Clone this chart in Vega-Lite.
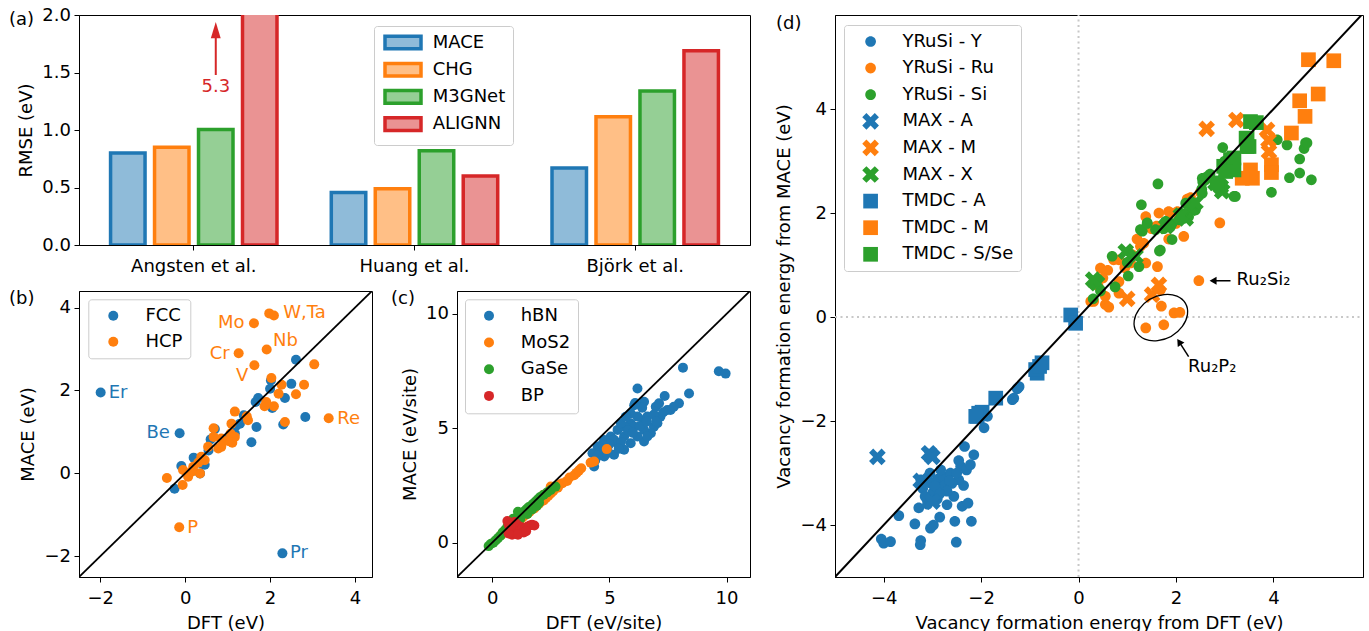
{
  "$schema": "https://vega.github.io/schema/vega-lite/v6.json",
  "background": "white",
  "padding": {"left": 8, "top": 5, "right": 5, "bottom": 5},
  "config": {
    "font": "DejaVu Sans",
    "view": {"stroke": "black", "strokeWidth": 1},
    "axis": {"grid": false, "domainColor": "black", "tickColor": "black", "labelColor": "black", "titleColor": "black", "labelFont": "DejaVu Sans", "titleFont": "DejaVu Sans", "labelFontSize": 18, "titleFontSize": 18, "titleFontWeight": "normal", "tickSize": 5, "labelPadding": 3.5, "titlePadding": 6, "labelAngle": 0},
    "axisX": {"labelPadding": 7.5, "titlePadding": 6.5},
    "legend": {"labelFont": "DejaVu Sans", "labelFontSize": 18, "labelColor": "black", "strokeColor": "#cccccc", "fillColor": "white", "cornerRadius": 3, "padding": 7.5, "rowPadding": 8.6, "orient": "none", "labelLimit": 300},
    "title": {"font": "DejaVu Sans", "fontSize": 18, "fontWeight": "normal", "color": "black", "anchor": "start", "frame": "group", "offset": 0, "baseline": "middle"}
  },
  "datasets": {
    "bars": [
      {"study": "Angsten et al.", "model": "MACE", "y": 0.80},
      {"study": "Angsten et al.", "model": "CHG", "y": 0.85},
      {"study": "Angsten et al.", "model": "M3GNet", "y": 1.005},
      {"study": "Angsten et al.", "model": "ALIGNN", "y": 5.3},
      {"study": "Huang et al.", "model": "MACE", "y": 0.457},
      {"study": "Huang et al.", "model": "CHG", "y": 0.49},
      {"study": "Huang et al.", "model": "M3GNet", "y": 0.82},
      {"study": "Huang et al.", "model": "ALIGNN", "y": 0.60},
      {"study": "Björk et al.", "model": "MACE", "y": 0.67},
      {"study": "Björk et al.", "model": "CHG", "y": 1.115},
      {"study": "Björk et al.", "model": "M3GNet", "y": 1.34},
      {"study": "Björk et al.", "model": "ALIGNN", "y": 1.69}
    ],
    "annA": [
      {"study": "Angsten et al.", "model": "M3GNet", "y": 1.478, "y2": 1.861, "ytip": 1.861, "ytxt": 1.374, "label": "5.3"}
    ],
    "b": [
      {"x": -1.99, "y": 1.95, "g": "FCC"}, {"x": -0.13, "y": 0.97, "g": "FCC"}, {"x": 2.29, "y": -1.93, "g": "FCC"},
      {"x": 2.61, "y": 2.74, "g": "FCC"}, {"x": 2.5, "y": 2.16, "g": "FCC"}, {"x": 2.35, "y": 1.82, "g": "FCC"},
      {"x": 2.83, "y": 1.36, "g": "FCC"}, {"x": 2.31, "y": 1.18, "g": "FCC"}, {"x": 2.02, "y": 2.24, "g": "FCC"},
      {"x": 2.0, "y": 2.04, "g": "FCC"}, {"x": 2.05, "y": 1.58, "g": "FCC"}, {"x": 1.72, "y": 1.82, "g": "FCC"},
      {"x": 1.66, "y": 1.72, "g": "FCC"}, {"x": 1.68, "y": 1.12, "g": "FCC"}, {"x": 1.56, "y": 0.75, "g": "FCC"},
      {"x": 1.38, "y": 1.4, "g": "FCC"}, {"x": 1.29, "y": 1.2, "g": "FCC"}, {"x": 0.7, "y": 1.07, "g": "FCC"},
      {"x": 0.6, "y": 0.82, "g": "FCC"}, {"x": 0.38, "y": 0.24, "g": "FCC"}, {"x": 0.46, "y": 0.21, "g": "FCC"},
      {"x": 0.2, "y": 0.38, "g": "FCC"}, {"x": -0.09, "y": 0.18, "g": "FCC"}, {"x": -0.25, "y": -0.37, "g": "FCC"},
      {"x": 0.35, "y": 0.0, "g": "FCC"}, {"x": 1.01, "y": 0.84, "g": "FCC"}, {"x": 1.17, "y": 0.96, "g": "FCC"},
      {"x": 0.55, "y": 0.55, "g": "FCC"}, {"x": 0.9, "y": 0.8, "g": "FCC"}, {"x": 1.2, "y": 1.15, "g": "FCC"},
      {"x": -0.14, "y": -1.3, "g": "HCP"}, {"x": 1.62, "y": 3.62, "g": "HCP"}, {"x": 1.98, "y": 3.86, "g": "HCP"},
      {"x": 2.09, "y": 3.81, "g": "HCP"}, {"x": 1.92, "y": 2.99, "g": "HCP"}, {"x": 1.26, "y": 2.9, "g": "HCP"},
      {"x": 1.63, "y": 2.61, "g": "HCP"}, {"x": 3.38, "y": 1.33, "g": "HCP"}, {"x": 3.04, "y": 2.63, "g": "HCP"},
      {"x": 2.8, "y": 2.14, "g": "HCP"}, {"x": 2.61, "y": 1.91, "g": "HCP"}, {"x": 2.27, "y": 2.14, "g": "HCP"},
      {"x": 2.2, "y": 1.92, "g": "HCP"}, {"x": 2.03, "y": 2.3, "g": "HCP"}, {"x": 2.09, "y": 1.62, "g": "HCP"},
      {"x": 1.87, "y": 1.62, "g": "HCP"}, {"x": 1.91, "y": 1.72, "g": "HCP"}, {"x": 2.35, "y": 1.24, "g": "HCP"},
      {"x": 1.48, "y": 1.28, "g": "HCP"}, {"x": 1.45, "y": 1.38, "g": "HCP"}, {"x": 1.17, "y": 1.49, "g": "HCP"},
      {"x": 1.09, "y": 1.2, "g": "HCP"}, {"x": 1.07, "y": 0.96, "g": "HCP"}, {"x": 1.17, "y": 0.88, "g": "HCP"},
      {"x": 1.11, "y": 0.74, "g": "HCP"}, {"x": 1.01, "y": 0.78, "g": "HCP"}, {"x": 0.85, "y": 0.84, "g": "HCP"},
      {"x": 0.78, "y": 0.6, "g": "HCP"}, {"x": 0.67, "y": 1.09, "g": "HCP"}, {"x": 0.67, "y": 0.88, "g": "HCP"},
      {"x": 0.54, "y": 0.64, "g": "HCP"}, {"x": 0.38, "y": 0.4, "g": "HCP"}, {"x": 0.31, "y": 0.26, "g": "HCP"},
      {"x": 0.35, "y": 0.0, "g": "HCP"}, {"x": 0.19, "y": 0.16, "g": "HCP"}, {"x": 0.07, "y": -0.08, "g": "HCP"},
      {"x": -0.05, "y": 0.08, "g": "HCP"}, {"x": -0.06, "y": -0.28, "g": "HCP"}, {"x": -0.43, "y": -0.11, "g": "HCP"},
      {"x": 0.15, "y": 0.04, "g": "HCP"}, {"x": 0.46, "y": 0.32, "g": "HCP"}, {"x": 0.85, "y": 0.64, "g": "HCP"}
    ],
    "bLabels": [
      {"x": -1.8, "y": 1.95, "t": "Er", "g": "FCC", "a": "L"},
      {"x": -0.36, "y": 0.97, "t": "Be", "g": "FCC", "a": "R"},
      {"x": 2.47, "y": -1.93, "t": "Pr", "g": "FCC", "a": "L"},
      {"x": 0.05, "y": -1.31, "t": "P", "g": "HCP", "a": "L"},
      {"x": 1.4, "y": 3.62, "t": "Mo", "g": "HCP", "a": "R"},
      {"x": 2.31, "y": 3.86, "t": "W,Ta", "g": "HCP", "a": "L"},
      {"x": 2.07, "y": 3.2, "t": "Nb", "g": "HCP", "a": "L"},
      {"x": 1.05, "y": 2.88, "t": "Cr", "g": "HCP", "a": "R"},
      {"x": 1.34, "y": 2.34, "t": "V", "g": "HCP", "a": "C"},
      {"x": 3.58, "y": 1.31, "t": "Re", "g": "HCP", "a": "L"}
    ],
    "diagB": [{"x": -2.5, "y": -2.5, "x2": 4.4, "y2": 4.4}],
    "diagC": [{"x": -1.5, "y": -1.5, "x2": 11, "y2": 11}],
    "diagD": [{"x": -5, "y": -5, "x2": 5.84, "y2": 5.84}],
    "zeroD": [{"x": 0, "y": -5, "x2": 0, "y2": 5.81}, {"x": -5, "y": 0, "x2": 5.84, "y2": 0}],
    "c": [
      {"x": 9.67, "y": 7.49, "g": "hBN"}, {"x": 9.96, "y": 7.39, "g": "hBN"}, {"x": 8.14, "y": 7.65, "g": "hBN"},
      {"x": 6.2, "y": 6.74, "g": "hBN"}, {"x": 8.4, "y": 6.52, "g": "hBN"}, {"x": 7.36, "y": 6.41, "g": "hBN"},
      {"x": 6.48, "y": 6.16, "g": "hBN"}, {"x": 6.06, "y": 6.01, "g": "hBN"}, {"x": 6.98, "y": 5.94, "g": "hBN"},
      {"x": 7.97, "y": 6.09, "g": "hBN"}, {"x": 7.61, "y": 5.8, "g": "hBN"}, {"x": 7.18, "y": 5.51, "g": "hBN"},
      {"x": 6.9, "y": 5.07, "g": "hBN"}, {"x": 6.48, "y": 5.36, "g": "hBN"}, {"x": 6.2, "y": 5.51, "g": "hBN"},
      {"x": 5.91, "y": 5.22, "g": "hBN"}, {"x": 5.63, "y": 5.07, "g": "hBN"}, {"x": 5.35, "y": 4.93, "g": "hBN"},
      {"x": 5.06, "y": 4.64, "g": "hBN"}, {"x": 4.78, "y": 4.49, "g": "hBN"}, {"x": 4.5, "y": 4.2, "g": "hBN"},
      {"x": 4.28, "y": 3.91, "g": "hBN"}, {"x": 4.35, "y": 3.33, "g": "hBN"}, {"x": 4.78, "y": 3.77, "g": "hBN"},
      {"x": 5.2, "y": 3.84, "g": "hBN"}, {"x": 5.63, "y": 4.06, "g": "hBN"}, {"x": 5.91, "y": 4.35, "g": "hBN"},
      {"x": 6.48, "y": 4.42, "g": "hBN"}, {"x": 6.2, "y": 4.64, "g": "hBN"}, {"x": 6.77, "y": 4.78, "g": "hBN"},
      {"x": 6.48, "y": 4.93, "g": "hBN"}, {"x": 5.63, "y": 4.64, "g": "hBN"}, {"x": 5.35, "y": 4.35, "g": "hBN"},
      {"x": 4.92, "y": 4.06, "g": "hBN"}, {"x": 6.06, "y": 5.07, "g": "hBN"}, {"x": 7.47, "y": 5.8, "g": "hBN"},
      {"x": 7.75, "y": 5.94, "g": "hBN"}, {"x": 5.91, "y": 5.65, "g": "hBN"}, {"x": 6.62, "y": 5.51, "g": "hBN"},
      {"x": 5.49, "y": 5.22, "g": "hBN"}, {"x": 7.05, "y": 5.22, "g": "hBN"}, {"x": 7.12, "y": 6.09, "g": "hBN"},
      {"x": 6.62, "y": 4.64, "g": "hBN"}, {"x": 5.2, "y": 4.5, "g": "hBN"}, {"x": 4.6, "y": 4.1, "g": "hBN"},
      {"x": 4.4, "y": 3.6, "g": "hBN"}, {"x": 5.0, "y": 4.3, "g": "hBN"}, {"x": 5.8, "y": 4.9, "g": "hBN"},
      {"x": 6.3, "y": 5.1, "g": "hBN"}, {"x": 6.9, "y": 5.6, "g": "hBN"}, {"x": 7.3, "y": 5.7, "g": "hBN"},
      {"x": 6.0, "y": 4.8, "g": "hBN"}, {"x": 5.5, "y": 4.4, "g": "hBN"}, {"x": 4.9, "y": 3.9, "g": "hBN"},
      {"x": 6.6, "y": 5.3, "g": "hBN"}, {"x": 7.0, "y": 5.3, "g": "hBN"}, {"x": 5.7, "y": 5.5, "g": "hBN"},
      {"x": 6.4, "y": 5.9, "g": "hBN"}, {"x": 6.1, "y": 6.1, "g": "hBN"}, {"x": 5.4, "y": 4.1, "g": "hBN"},
      {"x": 4.7, "y": 4.3, "g": "hBN"}, {"x": 4.5, "y": 3.8, "g": "hBN"},
      {"x": 0.4, "y": 0.35, "g": "MoS2"}, {"x": 0.5, "y": 0.45, "g": "MoS2"}, {"x": 0.6, "y": 0.5, "g": "MoS2"},
      {"x": 0.7, "y": 0.6, "g": "MoS2"}, {"x": 0.8, "y": 0.68, "g": "MoS2"}, {"x": 0.9, "y": 0.75, "g": "MoS2"},
      {"x": 1.0, "y": 0.85, "g": "MoS2"}, {"x": 1.1, "y": 0.9, "g": "MoS2"}, {"x": 1.2, "y": 1.0, "g": "MoS2"},
      {"x": 1.3, "y": 1.1, "g": "MoS2"}, {"x": 1.4, "y": 1.2, "g": "MoS2"}, {"x": 1.5, "y": 1.25, "g": "MoS2"},
      {"x": 1.6, "y": 1.35, "g": "MoS2"}, {"x": 1.7, "y": 1.45, "g": "MoS2"}, {"x": 1.8, "y": 1.5, "g": "MoS2"},
      {"x": 1.9, "y": 1.6, "g": "MoS2"}, {"x": 2.0, "y": 1.7, "g": "MoS2"}, {"x": 2.1, "y": 1.8, "g": "MoS2"},
      {"x": 2.2, "y": 1.85, "g": "MoS2"}, {"x": 2.3, "y": 1.95, "g": "MoS2"}, {"x": 2.4, "y": 2.05, "g": "MoS2"},
      {"x": 2.5, "y": 2.15, "g": "MoS2"}, {"x": 2.6, "y": 2.25, "g": "MoS2"}, {"x": 2.8, "y": 2.4, "g": "MoS2"},
      {"x": 2.9, "y": 2.55, "g": "MoS2"}, {"x": 3.0, "y": 2.6, "g": "MoS2"}, {"x": 3.2, "y": 2.7, "g": "MoS2"},
      {"x": 3.3, "y": 2.85, "g": "MoS2"}, {"x": 3.5, "y": 2.95, "g": "MoS2"}, {"x": 3.6, "y": 3.05, "g": "MoS2"},
      {"x": 3.7, "y": 3.15, "g": "MoS2"}, {"x": 3.8, "y": 3.25, "g": "MoS2"}, {"x": 4.2, "y": 3.5, "g": "MoS2"},
      {"x": 4.35, "y": 3.55, "g": "MoS2"}, {"x": 4.89, "y": 4.09, "g": "MoS2"}, {"x": 2.5, "y": 2.45, "g": "MoS2"},
      {"x": 2.2, "y": 2.1, "g": "MoS2"}, {"x": 1.6, "y": 1.5, "g": "MoS2"},
      {"x": -0.15, "y": -0.15, "g": "GaSe"}, {"x": -0.05, "y": -0.05, "g": "GaSe"}, {"x": 0.05, "y": 0.0, "g": "GaSe"},
      {"x": 0.15, "y": 0.1, "g": "GaSe"}, {"x": 0.25, "y": 0.2, "g": "GaSe"}, {"x": 0.35, "y": 0.3, "g": "GaSe"},
      {"x": 0.45, "y": 0.45, "g": "GaSe"}, {"x": 0.55, "y": 0.55, "g": "GaSe"}, {"x": 0.65, "y": 0.7, "g": "GaSe"},
      {"x": 0.75, "y": 0.8, "g": "GaSe"}, {"x": 0.85, "y": 0.9, "g": "GaSe"}, {"x": 0.95, "y": 1.0, "g": "GaSe"},
      {"x": 1.05, "y": 1.1, "g": "GaSe"}, {"x": 1.15, "y": 1.2, "g": "GaSe"}, {"x": 1.25, "y": 1.3, "g": "GaSe"},
      {"x": 1.35, "y": 1.35, "g": "GaSe"}, {"x": 1.45, "y": 1.45, "g": "GaSe"}, {"x": 1.55, "y": 1.55, "g": "GaSe"},
      {"x": 1.65, "y": 1.6, "g": "GaSe"}, {"x": 1.75, "y": 1.7, "g": "GaSe"}, {"x": 1.85, "y": 1.8, "g": "GaSe"},
      {"x": 1.95, "y": 1.9, "g": "GaSe"}, {"x": 2.05, "y": 2.0, "g": "GaSe"}, {"x": 2.2, "y": 2.1, "g": "GaSe"},
      {"x": 2.35, "y": 2.2, "g": "GaSe"}, {"x": 2.5, "y": 2.3, "g": "GaSe"}, {"x": 2.7, "y": 2.45, "g": "GaSe"},
      {"x": 1.5, "y": 1.25, "g": "GaSe"}, {"x": 1.7, "y": 1.45, "g": "GaSe"}, {"x": 1.9, "y": 1.6, "g": "GaSe"},
      {"x": 2.0, "y": 1.75, "g": "GaSe"}, {"x": 1.2, "y": 1.05, "g": "GaSe"}, {"x": 0.9, "y": 1.05, "g": "GaSe"},
      {"x": 1.1, "y": 1.35, "g": "GaSe"},
      {"x": 0.65, "y": 0.95, "g": "BP"}, {"x": 0.7, "y": 0.8, "g": "BP"}, {"x": 0.75, "y": 0.6, "g": "BP"},
      {"x": 0.8, "y": 0.45, "g": "BP"}, {"x": 0.85, "y": 0.35, "g": "BP"}, {"x": 0.9, "y": 0.7, "g": "BP"},
      {"x": 0.95, "y": 0.55, "g": "BP"}, {"x": 1.0, "y": 0.4, "g": "BP"}, {"x": 1.05, "y": 0.8, "g": "BP"},
      {"x": 1.1, "y": 0.6, "g": "BP"}, {"x": 1.15, "y": 0.45, "g": "BP"}, {"x": 1.2, "y": 0.7, "g": "BP"},
      {"x": 1.25, "y": 0.55, "g": "BP"}, {"x": 1.3, "y": 0.65, "g": "BP"}, {"x": 1.35, "y": 0.45, "g": "BP"},
      {"x": 1.4, "y": 0.6, "g": "BP"}, {"x": 1.5, "y": 0.7, "g": "BP"}, {"x": 1.6, "y": 0.75, "g": "BP"},
      {"x": 1.7, "y": 0.78, "g": "BP"}, {"x": 1.8, "y": 0.75, "g": "BP"}, {"x": 0.7, "y": 0.4, "g": "BP"},
      {"x": 0.95, "y": 0.9, "g": "BP"}, {"x": 1.1, "y": 0.35, "g": "BP"}, {"x": 1.45, "y": 0.5, "g": "BP"},
      {"x": 0.8, "y": 0.75, "g": "BP"}
    ],
    "d": [
      {"x": -4.05, "y": -4.27, "s": "YRuSi - Y"}, {"x": -4.0, "y": -4.35, "s": "YRuSi - Y"}, {"x": -3.86, "y": -4.32, "s": "YRuSi - Y"},
      {"x": -3.69, "y": -3.82, "s": "YRuSi - Y"}, {"x": -3.36, "y": -3.98, "s": "YRuSi - Y"}, {"x": -3.24, "y": -4.3, "s": "YRuSi - Y"},
      {"x": -3.25, "y": -4.38, "s": "YRuSi - Y"}, {"x": -3.04, "y": -4.06, "s": "YRuSi - Y"}, {"x": -2.98, "y": -4.0, "s": "YRuSi - Y"},
      {"x": -2.85, "y": -3.85, "s": "YRuSi - Y"}, {"x": -2.54, "y": -3.93, "s": "YRuSi - Y"}, {"x": -2.51, "y": -4.33, "s": "YRuSi - Y"},
      {"x": -2.2, "y": -3.93, "s": "YRuSi - Y"}, {"x": -3.28, "y": -3.67, "s": "YRuSi - Y"}, {"x": -2.7, "y": -3.61, "s": "YRuSi - Y"},
      {"x": -2.39, "y": -3.64, "s": "YRuSi - Y"}, {"x": -2.27, "y": -3.58, "s": "YRuSi - Y"}, {"x": -2.36, "y": -3.24, "s": "YRuSi - Y"},
      {"x": -2.56, "y": -3.45, "s": "YRuSi - Y"}, {"x": -3.11, "y": -3.51, "s": "YRuSi - Y"}, {"x": -3.2, "y": -3.3, "s": "YRuSi - Y"},
      {"x": -3.04, "y": -3.19, "s": "YRuSi - Y"}, {"x": -2.9, "y": -3.12, "s": "YRuSi - Y"}, {"x": -2.77, "y": -3.07, "s": "YRuSi - Y"},
      {"x": -2.63, "y": -3.0, "s": "YRuSi - Y"}, {"x": -2.46, "y": -3.13, "s": "YRuSi - Y"}, {"x": -2.77, "y": -3.25, "s": "YRuSi - Y"},
      {"x": -2.98, "y": -3.36, "s": "YRuSi - Y"}, {"x": -2.83, "y": -2.94, "s": "YRuSi - Y"}, {"x": -2.42, "y": -2.87, "s": "YRuSi - Y"},
      {"x": -2.3, "y": -2.94, "s": "YRuSi - Y"}, {"x": -2.22, "y": -2.84, "s": "YRuSi - Y"}, {"x": -2.46, "y": -2.76, "s": "YRuSi - Y"},
      {"x": -2.15, "y": -2.65, "s": "YRuSi - Y"}, {"x": -2.34, "y": -2.49, "s": "YRuSi - Y"}, {"x": -1.94, "y": -2.13, "s": "YRuSi - Y"},
      {"x": -1.87, "y": -1.91, "s": "YRuSi - Y"}, {"x": -1.36, "y": -1.59, "s": "YRuSi - Y"}, {"x": -1.26, "y": -1.38, "s": "YRuSi - Y"},
      {"x": -1.22, "y": -1.34, "s": "YRuSi - Y"}, {"x": -3.24, "y": -3.13, "s": "YRuSi - Y"}, {"x": -3.0, "y": -3.4, "s": "YRuSi - Y"},
      {"x": -2.9, "y": -3.5, "s": "YRuSi - Y"}, {"x": -3.1, "y": -3.6, "s": "YRuSi - Y"}, {"x": -2.6, "y": -3.2, "s": "YRuSi - Y"},
      {"x": -2.7, "y": -3.35, "s": "YRuSi - Y"}, {"x": -3.05, "y": -3.0, "s": "YRuSi - Y"}, {"x": -2.95, "y": -3.25, "s": "YRuSi - Y"},
      {"x": -2.85, "y": -3.4, "s": "YRuSi - Y"}, {"x": -2.5, "y": -3.0, "s": "YRuSi - Y"}, {"x": -2.65, "y": -3.15, "s": "YRuSi - Y"},
      {"x": -3.15, "y": -3.45, "s": "YRuSi - Y"}, {"x": -1.33, "y": -1.56, "s": "YRuSi - Y"}, {"x": -1.25, "y": -1.37, "s": "YRuSi - Y"},
      {"x": 2.9, "y": 1.81, "s": "YRuSi - Ru"}, {"x": 2.47, "y": 0.7, "s": "YRuSi - Ru"}, {"x": 2.16, "y": 1.55, "s": "YRuSi - Ru"},
      {"x": 1.65, "y": 2.0, "s": "YRuSi - Ru"}, {"x": 1.38, "y": 1.93, "s": "YRuSi - Ru"}, {"x": 1.85, "y": 2.03, "s": "YRuSi - Ru"},
      {"x": 1.85, "y": 1.5, "s": "YRuSi - Ru"}, {"x": 1.62, "y": 0.97, "s": "YRuSi - Ru"}, {"x": 1.38, "y": 1.04, "s": "YRuSi - Ru"},
      {"x": 0.83, "y": 1.1, "s": "YRuSi - Ru"}, {"x": 0.45, "y": 0.94, "s": "YRuSi - Ru"}, {"x": 0.6, "y": 0.9, "s": "YRuSi - Ru"},
      {"x": 0.83, "y": 0.68, "s": "YRuSi - Ru"}, {"x": 0.55, "y": 0.4, "s": "YRuSi - Ru"}, {"x": 0.25, "y": 0.3, "s": "YRuSi - Ru"},
      {"x": 1.34, "y": 1.42, "s": "YRuSi - Ru"}, {"x": 1.7, "y": 0.21, "s": "YRuSi - Ru"}, {"x": 1.96, "y": 0.08, "s": "YRuSi - Ru"},
      {"x": 2.08, "y": 0.09, "s": "YRuSi - Ru"}, {"x": 1.38, "y": -0.21, "s": "YRuSi - Ru"}, {"x": 1.75, "y": -0.15, "s": "YRuSi - Ru"},
      {"x": 2.23, "y": 2.27, "s": "YRuSi - Ru"}, {"x": 0.31, "y": 0.3, "s": "YRuSi - Ru"}, {"x": 0.55, "y": 0.24, "s": "YRuSi - Ru"},
      {"x": 0.62, "y": 0.19, "s": "YRuSi - Ru"}, {"x": 0.83, "y": 0.46, "s": "YRuSi - Ru"}, {"x": 1.07, "y": 1.04, "s": "YRuSi - Ru"},
      {"x": 1.27, "y": 1.36, "s": "YRuSi - Ru"}, {"x": 1.89, "y": 2.0, "s": "YRuSi - Ru"}, {"x": 2.03, "y": 2.03, "s": "YRuSi - Ru"},
      {"x": 1.68, "y": 0.52, "s": "YRuSi - Ru"}, {"x": 0.72, "y": 1.1, "s": "YRuSi - Ru"}, {"x": 0.4, "y": 0.6, "s": "YRuSi - Ru"},
      {"x": 0.5, "y": 0.75, "s": "YRuSi - Ru"}, {"x": 0.95, "y": 0.95, "s": "YRuSi - Ru"}, {"x": 1.1, "y": 1.2, "s": "YRuSi - Ru"},
      {"x": 1.5, "y": 1.7, "s": "YRuSi - Ru"}, {"x": 1.6, "y": 1.75, "s": "YRuSi - Ru"}, {"x": 1.2, "y": 1.5, "s": "YRuSi - Ru"},
      {"x": 2.3, "y": 2.3, "s": "YRuSi - Ru"}, {"x": 2.5, "y": 2.4, "s": "YRuSi - Ru"}, {"x": 2.0, "y": 1.8, "s": "YRuSi - Ru"},
      {"x": 2.96, "y": 3.26, "s": "YRuSi - Si"}, {"x": 4.28, "y": 3.31, "s": "YRuSi - Si"}, {"x": 4.66, "y": 3.35, "s": "YRuSi - Si"},
      {"x": 4.63, "y": 3.24, "s": "YRuSi - Si"}, {"x": 4.54, "y": 3.04, "s": "YRuSi - Si"}, {"x": 4.54, "y": 2.77, "s": "YRuSi - Si"},
      {"x": 4.78, "y": 2.64, "s": "YRuSi - Si"}, {"x": 4.33, "y": 2.68, "s": "YRuSi - Si"}, {"x": 3.96, "y": 2.4, "s": "YRuSi - Si"},
      {"x": 3.22, "y": 2.32, "s": "YRuSi - Si"}, {"x": 4.08, "y": 3.41, "s": "YRuSi - Si"}, {"x": 2.54, "y": 2.67, "s": "YRuSi - Si"},
      {"x": 2.53, "y": 2.46, "s": "YRuSi - Si"}, {"x": 1.63, "y": 2.56, "s": "YRuSi - Si"}, {"x": 1.29, "y": 2.16, "s": "YRuSi - Si"},
      {"x": 1.41, "y": 1.81, "s": "YRuSi - Si"}, {"x": 1.31, "y": 1.65, "s": "YRuSi - Si"}, {"x": 1.92, "y": 1.49, "s": "YRuSi - Si"},
      {"x": 1.66, "y": 1.27, "s": "YRuSi - Si"}, {"x": 0.69, "y": 1.17, "s": "YRuSi - Si"}, {"x": 1.24, "y": 0.97, "s": "YRuSi - Si"},
      {"x": 1.02, "y": 0.79, "s": "YRuSi - Si"}, {"x": 0.75, "y": 0.58, "s": "YRuSi - Si"}, {"x": 3.19, "y": 2.32, "s": "YRuSi - Si"},
      {"x": 2.54, "y": 2.38, "s": "YRuSi - Si"}, {"x": 2.2, "y": 2.19, "s": "YRuSi - Si"}, {"x": 2.4, "y": 2.06, "s": "YRuSi - Si"},
      {"x": 2.26, "y": 1.93, "s": "YRuSi - Si"}, {"x": 2.06, "y": 1.87, "s": "YRuSi - Si"}, {"x": 1.79, "y": 1.84, "s": "YRuSi - Si"},
      {"x": 1.58, "y": 1.68, "s": "YRuSi - Si"}, {"x": 1.92, "y": 1.8, "s": "YRuSi - Si"}, {"x": 2.61, "y": 2.64, "s": "YRuSi - Si"},
      {"x": 1.68, "y": 1.29, "s": "YRuSi - Si"}, {"x": 2.64, "y": 2.7, "s": "YRuSi - Si"}, {"x": 2.55, "y": 2.6, "s": "YRuSi - Si"},
      {"x": 2.85, "y": 2.51, "s": "YRuSi - Si"}, {"x": 2.37, "y": 2.19, "s": "YRuSi - Si"}, {"x": 1.27, "y": 1.68, "s": "YRuSi - Si"},
      {"x": 1.41, "y": 1.8, "s": "YRuSi - Si"}, {"x": 1.89, "y": 1.74, "s": "YRuSi - Si"}, {"x": 1.75, "y": 1.7, "s": "YRuSi - Si"},
      {"x": 4.69, "y": 3.35, "s": "YRuSi - Si"}, {"x": 0.45, "y": 0.5, "s": "YRuSi - Si"}, {"x": 0.3, "y": 0.35, "s": "YRuSi - Si"},
      {"x": 1.0, "y": 1.05, "s": "YRuSi - Si"}, {"x": 2.1, "y": 2.0, "s": "YRuSi - Si"}, {"x": 2.7, "y": 2.75, "s": "YRuSi - Si"},
      {"x": 3.0, "y": 3.0, "s": "YRuSi - Si"},
      {"x": -4.13, "y": -2.69, "s": "MAX - A"}, {"x": -3.07, "y": -2.62, "s": "MAX - A"}, {"x": -3.0, "y": -2.69, "s": "MAX - A"},
      {"x": -3.24, "y": -3.15, "s": "MAX - A"}, {"x": -3.0, "y": -3.55, "s": "MAX - A"},
      {"x": 1.0, "y": 0.35, "s": "MAX - M"}, {"x": 1.51, "y": 0.43, "s": "MAX - M"}, {"x": 1.65, "y": 0.62, "s": "MAX - M"},
      {"x": 2.63, "y": 3.62, "s": "MAX - M"}, {"x": 3.24, "y": 3.79, "s": "MAX - M"}, {"x": 3.87, "y": 3.6, "s": "MAX - M"},
      {"x": 3.9, "y": 3.4, "s": "MAX - M"}, {"x": 3.91, "y": 3.18, "s": "MAX - M"},
      {"x": 0.38, "y": 0.65, "s": "MAX - X"}, {"x": 0.97, "y": 1.26, "s": "MAX - X"}, {"x": 1.17, "y": 1.17, "s": "MAX - X"},
      {"x": 2.81, "y": 2.58, "s": "MAX - X"}, {"x": 2.95, "y": 2.42, "s": "MAX - X"}, {"x": 2.2, "y": 1.9, "s": "MAX - X"},
      {"x": 2.3, "y": 2.1, "s": "MAX - X"}, {"x": 0.3, "y": 0.72, "s": "MAX - X"}, {"x": 2.92, "y": 2.51, "s": "MAX - X"},
      {"x": 1.8, "y": 1.75, "s": "MAX - X"}, {"x": 2.4, "y": 2.2, "s": "MAX - X"}, {"x": 2.1, "y": 1.95, "s": "MAX - X"},
      {"x": -1.7, "y": -1.56, "s": "TMDC - A"}, {"x": -2.08, "y": -1.91, "s": "TMDC - A"}, {"x": -1.98, "y": -1.83, "s": "TMDC - A"},
      {"x": -2.05, "y": -1.85, "s": "TMDC - A"}, {"x": -2.11, "y": -1.91, "s": "TMDC - A"}, {"x": -0.75, "y": -0.88, "s": "TMDC - A"},
      {"x": -0.85, "y": -1.08, "s": "TMDC - A"}, {"x": -0.88, "y": -1.01, "s": "TMDC - A"}, {"x": -0.8, "y": -0.95, "s": "TMDC - A"},
      {"x": -0.16, "y": 0.04, "s": "TMDC - A"}, {"x": -0.06, "y": -0.12, "s": "TMDC - A"},
      {"x": 4.72, "y": 4.95, "s": "TMDC - M"}, {"x": 5.24, "y": 4.93, "s": "TMDC - M"}, {"x": 4.92, "y": 4.29, "s": "TMDC - M"},
      {"x": 4.54, "y": 4.16, "s": "TMDC - M"}, {"x": 4.65, "y": 3.86, "s": "TMDC - M"}, {"x": 4.37, "y": 3.54, "s": "TMDC - M"},
      {"x": 3.96, "y": 2.93, "s": "TMDC - M"}, {"x": 3.96, "y": 2.78, "s": "TMDC - M"}, {"x": 3.53, "y": 2.83, "s": "TMDC - M"},
      {"x": 3.57, "y": 2.67, "s": "TMDC - M"}, {"x": 3.36, "y": 2.67, "s": "TMDC - M"},
      {"x": 3.65, "y": 3.74, "s": "TMDC - S/Se"}, {"x": 3.53, "y": 3.76, "s": "TMDC - S/Se"}, {"x": 3.44, "y": 3.44, "s": "TMDC - S/Se"},
      {"x": 3.5, "y": 3.28, "s": "TMDC - S/Se"}, {"x": 3.12, "y": 3.03, "s": "TMDC - S/Se"}, {"x": 3.19, "y": 2.83, "s": "TMDC - S/Se"},
      {"x": 2.98, "y": 2.9, "s": "TMDC - S/Se"}, {"x": 2.85, "y": 2.58, "s": "TMDC - S/Se"}, {"x": 3.46, "y": 3.44, "s": "TMDC - S/Se"},
      {"x": 3.46, "y": 3.28, "s": "TMDC - S/Se"}, {"x": 3.19, "y": 3.06, "s": "TMDC - S/Se"}, {"x": 3.02, "y": 2.8, "s": "TMDC - S/Se"}
    ],
    "ellipseD": [{"x": 1.69, "y": -0.01}],
    "arrowSi": [{"x": 2.762, "y": 0.698, "x2": 3.12, "y2": 0.698}],
    "arrowP": [{"x": 2.066, "y": -0.479, "x2": 2.26, "y2": -0.76}],
    "textD": [{"x": 3.245, "y": 0.71, "t": "Ru₂Si₂", "a": "L"}, {"x": 2.745, "y": -0.96, "t": "Ru₂P₂", "a": "C"}]
  },
  "bounds": "flush",
  "spacing": 756,
  "resolve": {"scale": {"color": "independent", "shape": "independent", "fill": "independent", "stroke": "independent"}},
  "hconcat": [
    {
      "bounds": "flush",
      "spacing": 46,
      "resolve": {"scale": {"color": "independent", "shape": "independent", "fill": "independent", "stroke": "independent"}},
      "vconcat": [
        {
          "width": 671,
          "height": 230,
          "title": {"text": "(a)", "dx": -70, "dy": 27},
          "encoding": {
            "x": {"field": "study", "type": "nominal", "scale": {"domain": ["Angsten et al.", "Huang et al.", "Björk et al."], "paddingInner": 0.246, "paddingOuter": 0.143}, "axis": {"title": null, "labelAngle": 0}},
            "xOffset": {"field": "model", "type": "nominal", "scale": {"domain": ["MACE", "CHG", "M3GNet", "ALIGNN"], "paddingInner": 0.216, "paddingOuter": 0}},
            "y": {"field": "y", "type": "quantitative", "title": "RMSE (eV)", "scale": {"domain": [0, 2], "nice": false}, "axis": {"values": [0, 0.5, 1, 1.5, 2], "format": ".1f"}}
          },
          "layer": [
            {
              "data": {"name": "bars"},
              "mark": {"type": "bar", "strokeWidth": 3.5, "clip": true},
              "encoding": {
                "fill": {"field": "model", "type": "nominal", "scale": {"domain": ["MACE", "CHG", "M3GNet", "ALIGNN"], "range": ["#8fbbd9", "#ffbf86", "#95cf95", "#ea9393"]}, "legend": {"title": null, "legendX": 295, "legendY": 11, "symbolType": "M-3.6,-1.26L3.6,-1.26L3.6,1.26L-3.6,1.26Z", "symbolSize": 100, "symbolStrokeWidth": 3.5, "symbolOffset": 12.5, "labelOffset": 20.7, "rowPadding": -0.8}},
                "stroke": {"field": "model", "type": "nominal", "scale": {"domain": ["MACE", "CHG", "M3GNet", "ALIGNN"], "range": ["#1f77b4", "#ff7f0e", "#2ca02c", "#d62728"]}, "legend": {"title": null, "legendX": 295, "legendY": 11, "symbolType": "M-3.6,-1.26L3.6,-1.26L3.6,1.26L-3.6,1.26Z", "symbolSize": 100, "symbolStrokeWidth": 3.5, "symbolOffset": 12.5, "labelOffset": 20.7, "rowPadding": -0.8}}
              }
            },
            {
              "data": {"name": "annA"},
              "mark": {"type": "rule", "color": "#d62728", "strokeWidth": 2},
              "encoding": {"y2": {"field": "y2"}}
            },
            {
              "data": {"name": "annA"},
              "mark": {"type": "point", "shape": "M0,-1L-0.55,0.8L0.55,0.8Z", "filled": true, "opacity": 1, "color": "#d62728", "size": 324},
              "encoding": {"y": {"field": "ytip", "type": "quantitative"}}
            },
            {
              "data": {"name": "annA"},
              "mark": {"type": "text", "color": "#d62728", "fontSize": 18, "baseline": "middle", "align": "center"},
              "encoding": {"y": {"field": "ytxt", "type": "quantitative"}, "text": {"field": "label"}}
            }
          ]
        },
        {
          "bounds": "flush",
          "spacing": 85,
          "resolve": {"scale": {"color": "independent", "shape": "independent", "fill": "independent"}},
          "hconcat": [
            {
              "width": 293,
              "height": 286,
              "title": {"text": "(b)", "dx": -70, "dy": 21},
              "encoding": {
                "x": {"field": "x", "type": "quantitative", "title": "DFT (eV)", "scale": {"domain": [-2.5, 4.4], "nice": false, "zero": false}, "axis": {"values": [-2, 0, 2, 4]}},
                "y": {"field": "y", "type": "quantitative", "title": "MACE (eV)", "scale": {"domain": [-2.5, 4.4], "nice": false, "zero": false}, "axis": {"values": [-2, 0, 2, 4]}}
              },
              "layer": [
                {
                  "data": {"name": "b"},
                  "mark": {"type": "point", "filled": true, "opacity": 1, "size": 100},
                  "encoding": {"color": {"field": "g", "type": "nominal", "scale": {"domain": ["FCC", "HCP"], "range": ["#1f77b4", "#ff7f0e"]}, "legend": {"title": null, "legendX": 9.3, "legendY": 8.3, "symbolType": "circle", "symbolSize": 100, "symbolOffset": 8.5, "labelOffset": 23.1, "rowPadding": 8}}}
                },
                {
                  "data": {"name": "diagB"},
                  "mark": {"type": "rule", "color": "black", "strokeWidth": 1.8, "clip": true},
                  "encoding": {"x2": {"field": "x2"}, "y2": {"field": "y2"}}
                },
                {
                  "data": {"name": "bLabels"},
                  "transform": [{"filter": "datum.a == 'L'"}],
                  "mark": {"type": "text", "align": "left", "baseline": "middle", "fontSize": 18},
                  "encoding": {"text": {"field": "t"}, "fill": {"field": "g", "type": "nominal", "scale": {"domain": ["FCC", "HCP"], "range": ["#1f77b4", "#ff7f0e"]}, "legend": null}}
                },
                {
                  "data": {"name": "bLabels"},
                  "transform": [{"filter": "datum.a == 'R'"}],
                  "mark": {"type": "text", "align": "right", "baseline": "middle", "fontSize": 18},
                  "encoding": {"text": {"field": "t"}, "fill": {"field": "g", "type": "nominal", "scale": {"domain": ["FCC", "HCP"], "range": ["#1f77b4", "#ff7f0e"]}, "legend": null}}
                },
                {
                  "data": {"name": "bLabels"},
                  "transform": [{"filter": "datum.a == 'C'"}],
                  "mark": {"type": "text", "align": "center", "baseline": "middle", "fontSize": 18},
                  "encoding": {"text": {"field": "t"}, "fill": {"field": "g", "type": "nominal", "scale": {"domain": ["FCC", "HCP"], "range": ["#1f77b4", "#ff7f0e"]}, "legend": null}}
                }
              ]
            },
            {
              "width": 293,
              "height": 286,
              "title": {"text": "(c)", "dx": -66, "dy": 21},
              "encoding": {
                "x": {"field": "x", "type": "quantitative", "title": "DFT (eV/site)", "scale": {"domain": [-1.5, 11], "nice": false, "zero": false}, "axis": {"values": [0, 5, 10]}},
                "y": {"field": "y", "type": "quantitative", "title": "MACE (eV/site)", "scale": {"domain": [-1.5, 11], "nice": false, "zero": false}, "axis": {"values": [0, 5, 10]}}
              },
              "layer": [
                {
                  "data": {"name": "c"},
                  "mark": {"type": "point", "filled": true, "opacity": 1, "size": 100},
                  "encoding": {"color": {"field": "g", "type": "nominal", "scale": {"domain": ["hBN", "MoS2", "GaSe", "BP"], "range": ["#1f77b4", "#ff7f0e", "#2ca02c", "#d62728"]}, "legend": {"title": null, "legendX": 8, "legendY": 8.3, "symbolType": "circle", "symbolSize": 100, "symbolOffset": 7.5, "labelOffset": 22.7, "rowPadding": 8.7}}}
                },
                {
                  "data": {"name": "diagC"},
                  "mark": {"type": "rule", "color": "black", "strokeWidth": 1.8, "clip": true},
                  "encoding": {"x2": {"field": "x2"}, "y2": {"field": "y2"}}
                }
              ]
            }
          ]
        }
      ]
    },
    {
      "width": 528,
      "height": 562,
      "title": {"text": "(d)", "dx": -59, "dy": 23},
      "encoding": {
        "x": {"field": "x", "type": "quantitative", "title": "Vacancy formation energy from DFT (eV)", "scale": {"domain": [-5, 5.84], "nice": false, "zero": false}, "axis": {"values": [-4, -2, 0, 2, 4]}},
        "y": {"field": "y", "type": "quantitative", "title": "Vacancy formation energy from MACE (eV)", "scale": {"domain": [-5, 5.81], "nice": false, "zero": false}, "axis": {"values": [-4, -2, 0, 2, 4]}}
      },
      "layer": [
        {
          "data": {"name": "zeroD"},
          "mark": {"type": "rule", "color": "#c8c8c8", "strokeWidth": 2, "strokeDash": [2, 3.5]},
          "encoding": {"x2": {"field": "x2"}, "y2": {"field": "y2"}}
        },
        {
          "data": {"name": "d"},
          "mark": {"type": "point", "filled": true, "opacity": 1, "size": 100},
          "encoding": {
            "color": {"field": "s", "type": "nominal", "scale": {"domain": ["YRuSi - Y", "YRuSi - Ru", "YRuSi - Si", "MAX - A", "MAX - M", "MAX - X", "TMDC - A", "TMDC - M", "TMDC - S/Se"], "range": ["#1f77b4", "#ff7f0e", "#2ca02c", "#1f77b4", "#ff7f0e", "#2ca02c", "#1f77b4", "#ff7f0e", "#2ca02c"]}, "legend": {"title": null, "legendX": 9, "legendY": 10, "symbolSize": 100, "symbolOffset": 10.1, "labelOffset": 22.8, "rowPadding": 8.6}},
            "shape": {"field": "s", "type": "nominal", "scale": {"domain": ["YRuSi - Y", "YRuSi - Ru", "YRuSi - Si", "MAX - A", "MAX - M", "MAX - X", "TMDC - A", "TMDC - M", "TMDC - S/Se"], "range": ["M1.07,0A1.07,1.07,0,1,1,-1.07,0A1.07,1.07,0,1,1,1.07,0Z", "M1.07,0A1.07,1.07,0,1,1,-1.07,0A1.07,1.07,0,1,1,1.07,0Z", "M1.07,0A1.07,1.07,0,1,1,-1.07,0A1.07,1.07,0,1,1,1.07,0Z", "M-1.67,-0.835L-0.835,-1.67L0,-0.835L0.835,-1.67L1.67,-0.835L0.835,0L1.67,0.835L0.835,1.67L0,0.835L-0.835,1.67L-1.67,0.835L-0.835,0Z", "M-1.67,-0.835L-0.835,-1.67L0,-0.835L0.835,-1.67L1.67,-0.835L0.835,0L1.67,0.835L0.835,1.67L0,0.835L-0.835,1.67L-1.67,0.835L-0.835,0Z", "M-1.67,-0.835L-0.835,-1.67L0,-0.835L0.835,-1.67L1.67,-0.835L0.835,0L1.67,0.835L0.835,1.67L0,0.835L-0.835,1.67L-1.67,0.835L-0.835,0Z", "M-1.47,-1.47L1.47,-1.47L1.47,1.47L-1.47,1.47Z", "M-1.47,-1.47L1.47,-1.47L1.47,1.47L-1.47,1.47Z", "M-1.47,-1.47L1.47,-1.47L1.47,1.47L-1.47,1.47Z"]}, "legend": {"title": null, "legendX": 9, "legendY": 10, "symbolSize": 100, "symbolOffset": 10.1, "labelOffset": 22.8, "rowPadding": 8.6}}
          }
        },
        {
          "data": {"name": "diagD"},
          "mark": {"type": "rule", "color": "black", "strokeWidth": 2, "clip": true},
          "encoding": {"x2": {"field": "x2"}, "y2": {"field": "y2"}}
        },
        {
          "data": {"name": "ellipseD"},
          "mark": {"type": "point", "shape": "M-0.866,0.5A1,0.74,-30,1,1,0.866,-0.5A1,0.74,-30,1,1,-0.866,0.5Z", "filled": false, "opacity": 1, "color": "black", "strokeWidth": 1.3, "size": 3226}
        },
        {
          "data": {"name": "arrowSi"},
          "mark": {"type": "rule", "color": "black", "strokeWidth": 1.5},
          "encoding": {"x2": {"field": "x2"}, "y2": {"field": "y2"}}
        },
        {
          "data": {"name": "arrowSi"},
          "mark": {"type": "point", "shape": "triangle-left", "filled": true, "opacity": 1, "color": "black", "size": 64}
        },
        {
          "data": {"name": "arrowP"},
          "mark": {"type": "rule", "color": "black", "strokeWidth": 1.5},
          "encoding": {"x2": {"field": "x2"}, "y2": {"field": "y2"}}
        },
        {
          "data": {"name": "arrowP"},
          "mark": {"type": "point", "shape": "triangle-up", "filled": true, "opacity": 1, "color": "black", "size": 64, "angle": 326}
        },
        {
          "data": {"name": "textD"},
          "transform": [{"filter": "datum.a == 'L'"}],
          "mark": {"type": "text", "align": "left", "baseline": "middle", "fontSize": 18, "color": "black"},
          "encoding": {"text": {"field": "t"}}
        },
        {
          "data": {"name": "textD"},
          "transform": [{"filter": "datum.a == 'C'"}],
          "mark": {"type": "text", "align": "center", "baseline": "middle", "fontSize": 18, "color": "black"},
          "encoding": {"text": {"field": "t"}}
        }
      ]
    }
  ]
}
